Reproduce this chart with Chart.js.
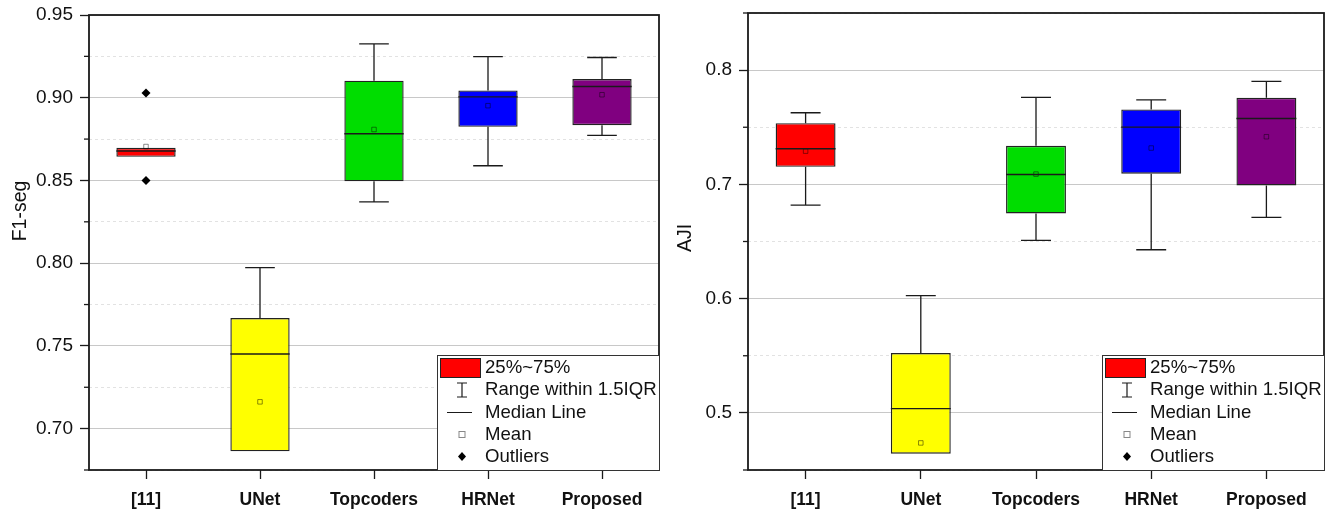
<!DOCTYPE html>
<html>
<head>
<meta charset="utf-8">
<script src="https://cdn.jsdelivr.net/npm/chart.js@4.4.1/dist/chart.umd.min.js"></script>
<style>
  html, body { margin: 0; padding: 0; background: #fff; }
  #wrap { position: relative; width: 1337px; height: 516px; }
  .panel { position: absolute; top: 0; }
  #left { left: 0; }
  #right { left: 670px; }
</style>
</head>
<body>
<div id="wrap">
  <div class="panel" id="left"><canvas id="f1Chart" width="670" height="516"></canvas></div>
  <div class="panel" id="right"><canvas id="ajiChart" width="667" height="516"></canvas></div>
</div>
<script>
const methods = ['[11]', 'UNet', 'Topcoders', 'HRNet', 'Proposed'];
const boxColors = ['#ff0000', '#ffff00', '#00dd00', '#0000ff', '#800080'];

// F1-seg (left panel)
const f1Q1 = [0.8643, 0.6863, 0.8495, 0.8824, 0.8834];
const f1Q3 = [0.8697, 0.7668, 0.9103, 0.9044, 0.9113];
const f1Median = [0.8678, 0.7451, 0.8782, 0.9005, 0.9068];
const f1Mean = [0.8705, 0.7162, 0.8808, 0.8952, 0.9018];
const f1WhiskerLow = [0.8643, 0.6863, 0.8370, 0.8589, 0.8773];
const f1WhiskerHigh = [0.8697, 0.7973, 0.9325, 0.9249, 0.9243];
const f1Outliers = [{ x: '[11]', y: 0.9029 }, { x: '[11]', y: 0.8499 }];

// AJI (right panel)
const ajiQ1 = [0.7154, 0.4643, 0.6746, 0.7093, 0.6991];
const ajiQ3 = [0.7536, 0.5524, 0.7338, 0.7656, 0.7758];
const ajiMedian = [0.7312, 0.5037, 0.7087, 0.7501, 0.7577];
const ajiMean = [0.7291, 0.4737, 0.7090, 0.7318, 0.7417];
const ajiWhiskerLow = [0.6819, 0.4643, 0.6510, 0.6428, 0.6711];
const ajiWhiskerHigh = [0.7627, 0.6026, 0.7761, 0.7740, 0.7901];
const ajiOutliers = [];

const legendLabels = ['25%~75%', 'Range within 1.5IQR', 'Median Line', 'Mean', 'Outliers'];

const FONT = "'Liberation Sans', Arial, sans-serif";
const INK = '#1a1a1a';

// draws whiskers, medians, frame, minor ticks, y title and the legend box
const boxExtras = {
  id: 'boxExtras',
  afterDatasetsDraw(chart, args, opts) {
    const ctx = chart.ctx;
    const y = chart.scales.y;
    const meta = chart.getDatasetMeta(0);
    ctx.save();
    ctx.strokeStyle = INK;
    meta.data.forEach((bar, i) => {
      const x = bar.x, w = bar.width;
      const yMed = y.getPixelForValue(opts.median[i]);
      ctx.lineWidth = 1.4;
      ctx.beginPath();
      ctx.moveTo(x - w / 2, yMed);
      ctx.lineTo(x + w / 2, yMed);
      ctx.stroke();
      ctx.lineWidth = 1.3;
      ctx.beginPath();
      // skip a whisker that sits on the box edge
      if (opts.whiskerHigh[i] > opts.q3[i]) {
        const yQ3 = y.getPixelForValue(opts.q3[i]);
        const yHi = y.getPixelForValue(opts.whiskerHigh[i]);
        ctx.moveTo(x, yQ3); ctx.lineTo(x, yHi);
        ctx.moveTo(x - w / 4, yHi); ctx.lineTo(x + w / 4, yHi);
      }
      if (opts.whiskerLow[i] < opts.q1[i]) {
        const yQ1 = y.getPixelForValue(opts.q1[i]);
        const yLo = y.getPixelForValue(opts.whiskerLow[i]);
        ctx.moveTo(x, yQ1); ctx.lineTo(x, yLo);
        ctx.moveTo(x - w / 4, yLo); ctx.lineTo(x + w / 4, yLo);
      }
      ctx.stroke();
    });
    ctx.restore();
  },
  afterDraw(chart, args, opts) {
    const ctx = chart.ctx;
    const a = chart.chartArea;
    const y = chart.scales.y;
    ctx.save();

    // minor ticks
    ctx.strokeStyle = INK;
    ctx.lineWidth = 1.3;
    y.ticks.forEach(t => {
      if (!opts.isMajor(t.value)) {
        const py = y.getPixelForValue(t.value);
        ctx.beginPath();
        ctx.moveTo(a.left - 5, py);
        ctx.lineTo(a.left, py);
        ctx.stroke();
      }
    });

    // frame
    ctx.lineWidth = 1.8;
    ctx.strokeRect(a.left, a.top, a.right - a.left, a.bottom - a.top);

    // y title
    ctx.fillStyle = '#111';
    ctx.font = '19.5px ' + FONT;
    ctx.textAlign = 'center';
    ctx.textBaseline = 'middle';
    ctx.translate(opts.titleX, opts.titleY);
    ctx.rotate(-Math.PI / 2);
    ctx.fillText(opts.title, 0, 0);
    ctx.setTransform(1, 0, 0, 1, 0, 0);

    // legend
    const L = a.right - 222, T = a.bottom - 115;
    ctx.fillStyle = '#fff';
    ctx.fillRect(L, T, a.right - L, a.bottom - T);
    ctx.strokeStyle = '#333';
    ctx.lineWidth = 1;
    ctx.strokeRect(L + 0.5, T + 0.5, a.right - L, a.bottom - T);

    const rows = [T + 12.5, T + 35, T + 57.5, T + 79.5, T + 101.5];
    const cx = L + 25;
    // box swatch
    ctx.fillStyle = '#ff0000';
    ctx.fillRect(L + 3, T + 3, 41, 20);
    ctx.strokeStyle = '#222';
    ctx.strokeRect(L + 3.5, T + 3.5, 40, 19);
    // whisker symbol
    ctx.strokeStyle = INK;
    ctx.lineWidth = 1.2;
    ctx.beginPath();
    ctx.moveTo(cx, rows[1] - 7); ctx.lineTo(cx, rows[1] + 7);
    ctx.moveTo(cx - 5, rows[1] - 7); ctx.lineTo(cx + 5, rows[1] - 7);
    ctx.moveTo(cx - 5, rows[1] + 7); ctx.lineTo(cx + 5, rows[1] + 7);
    // median symbol
    ctx.moveTo(cx - 15, rows[2]); ctx.lineTo(cx + 10, rows[2]);
    ctx.stroke();
    // mean symbol
    ctx.strokeStyle = '#888';
    ctx.lineWidth = 1;
    ctx.strokeRect(cx - 3, rows[3] - 3, 6, 6);
    // outlier symbol
    ctx.fillStyle = '#000';
    ctx.beginPath();
    ctx.moveTo(cx, rows[4] - 4.5); ctx.lineTo(cx + 4, rows[4]);
    ctx.lineTo(cx, rows[4] + 4.5); ctx.lineTo(cx - 4, rows[4]);
    ctx.closePath();
    ctx.fill();

    ctx.fillStyle = '#111';
    ctx.font = '18.6px ' + FONT;
    ctx.textAlign = 'left';
    ctx.textBaseline = 'middle';
    legendLabels.forEach((s, i) => ctx.fillText(s, L + 48, rows[i]));
    ctx.restore();
  }
};

function makeChart(id, cfg) {
  const isMajor = cfg.isMajor;
  return new Chart(document.getElementById(id), {
    type: 'bar',
    data: {
      labels: methods,
      datasets: [
        {
          data: methods.map((m, i) => [cfg.q1[i], cfg.q3[i]]),
          backgroundColor: boxColors,
          borderColor: '#222',
          borderWidth: 1.4,
          borderSkipped: false,
          barPercentage: 0.52,
          categoryPercentage: 1,
          order: 2
        },
        {
          type: 'line',
          data: cfg.mean,
          showLine: false,
          pointStyle: 'rect',
          pointRadius: 3.2,
          pointBorderWidth: 1,
          pointBackgroundColor: 'rgba(0,0,0,0)',
          pointBorderColor: 'rgba(0,0,0,0.45)',
          order: 0
        },
        {
          type: 'line',
          data: cfg.outliers,
          showLine: false,
          pointStyle: 'rectRot',
          pointRadius: 4.5,
          pointBorderWidth: 0,
          pointBackgroundColor: '#000',
          order: 0
        }
      ]
    },
    options: {
      responsive: false,
      animation: false,
      layout: { padding: { top: cfg.top, right: cfg.right, left: 0, bottom: 0 } },
      plugins: {
        legend: { display: false },
        tooltip: { enabled: false },
        boxExtras: {
          q1: cfg.q1, q3: cfg.q3, median: cfg.median,
          whiskerLow: cfg.whiskerLow, whiskerHigh: cfg.whiskerHigh,
          title: cfg.title, titleX: cfg.titleX, titleY: cfg.titleY,
          isMajor: isMajor
        }
      },
      scales: {
        x: {
          offset: true,
          grid: { offset: false, drawOnChartArea: false, drawTicks: true, tickLength: 9, tickColor: INK, tickWidth: 1.3 },
          border: { display: false },
          ticks: { color: '#111', padding: 11, font: { family: FONT, size: 17.5, weight: 'bold' }, maxRotation: 0 },
          afterFit(s) { s.height = 46; s.paddingLeft = 0; s.paddingRight = 0; }
        },
        y: {
          min: cfg.min,
          max: cfg.max,
          grid: {
            color: c => isMajor(c.tick.value) ? '#c8c8c8' : '#e2e2e2',
            lineWidth: 1,
            drawTicks: true,
            tickLength: 9,
            tickWidth: 1.3,
            tickColor: c => isMajor(c.tick.value) ? INK : 'rgba(0,0,0,0)'
          },
          border: { display: false, dash: c => (c.tick && !isMajor(c.tick.value)) ? [3, 3] : [] },
          ticks: {
            stepSize: cfg.step,
            autoSkip: false,
            padding: 7,
            color: '#111',
            font: { family: FONT, size: 19 },
            callback: v => isMajor(v) ? v.toFixed(cfg.digits) : ''
          },
          afterFit(s) { s.width = cfg.axisWidth; s.paddingTop = 0; s.paddingBottom = 0; }
        }
      }
    },
    plugins: [boxExtras]
  });
}

makeChart('f1Chart', {
  q1: f1Q1, q3: f1Q3, median: f1Median, mean: f1Mean,
  whiskerLow: f1WhiskerLow, whiskerHigh: f1WhiskerHigh, outliers: f1Outliers,
  min: 0.675, max: 0.95, step: 0.025, digits: 2,
  isMajor: v => Math.abs(v * 20 - Math.round(v * 20)) < 1e-6,
  top: 15, right: 11, axisWidth: 89,
  title: 'F1-seg', titleX: 21, titleY: 211
});

makeChart('ajiChart', {
  q1: ajiQ1, q3: ajiQ3, median: ajiMedian, mean: ajiMean,
  whiskerLow: ajiWhiskerLow, whiskerHigh: ajiWhiskerHigh, outliers: ajiOutliers,
  min: 0.45, max: 0.85, step: 0.05, digits: 1,
  isMajor: v => Math.abs(v * 10 - Math.round(v * 10)) < 1e-6,
  top: 13, right: 13, axisWidth: 78,
  title: 'AJI', titleX: 16, titleY: 238
});
</script>
</body>
</html>
